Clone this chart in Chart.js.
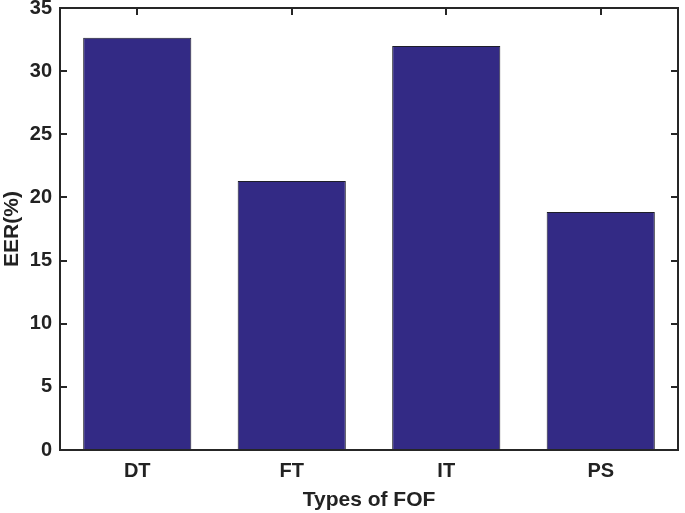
<!DOCTYPE html>
<html>
<head>
<meta charset="utf-8">
<script src="https://cdn.jsdelivr.net/npm/chart.js@4"></script>
<style>
  html, body { margin: 0; padding: 0; background: #fff; }
  #wrap { width: 685px; height: 513px; }
</style>
</head>
<body>
<div id="wrap"><canvas id="eerChart" width="685" height="513"></canvas></div>
<script>
const categories = ['DT', 'FT', 'IT', 'PS'];
const eerValues = [32.65, 21.3, 32.0, 18.85];
const yTicks = [0, 5, 10, 15, 20, 25, 30, 35];

const axisColor = '#262626';
const fontFamily = '"Liberation Sans", Arial, Helvetica, sans-serif';

// MATLAB-style box with inward ticks on all four sides
const boxPlugin = {
    id: 'matlabBox',
    beforeDatasetsDraw(chart) {
        const { ctx, chartArea: a, scales } = chart;
        ctx.save();
        ctx.strokeStyle = axisColor;
        ctx.lineWidth = 2;
        ctx.beginPath();
        yTicks.forEach(v => {
            const y = Math.round(scales.y.getPixelForValue(v));
            ctx.moveTo(a.left, y); ctx.lineTo(a.left + 7, y);
            ctx.moveTo(a.right, y); ctx.lineTo(a.right - 7, y);
        });
        categories.forEach((c, i) => {
            const x = Math.round(scales.x.getPixelForValue(i));
            ctx.moveTo(x, a.top); ctx.lineTo(x, a.top + 7);
        });
        ctx.stroke();
        ctx.restore();
    },
    afterDatasetsDraw(chart) {
        const { ctx, chartArea: a } = chart;
        ctx.save();
        ctx.strokeStyle = axisColor;
        ctx.lineWidth = 2;
        ctx.strokeRect(a.left, a.top, a.right - a.left, a.bottom - a.top);
        ctx.restore();
    }
};

new Chart(document.getElementById('eerChart'), {
    type: 'bar',
    data: {
        labels: categories,
        datasets: [{
            data: eerValues,
            backgroundColor: '#332a85',
            borderColor: '#1e1e2a',
            borderWidth: 1,
            categoryPercentage: 1.0,
            barPercentage: 0.7
        }]
    },
    options: {
        responsive: false,
        animation: false,
        layout: { padding: { left: 0, top: 8, right: 7, bottom: 0 } },
        plugins: { legend: { display: false }, tooltip: { enabled: false } },
        scales: {
            x: {
                grid: { display: false, drawTicks: false },
                border: { display: false },
                ticks: { color: '#222', padding: 9, font: { family: fontFamily, size: 20, weight: 'bold' } },
                title: {
                    display: true, text: 'Types of FOF', color: '#222', padding: { top: 2, bottom: 0 },
                    font: { family: fontFamily, size: 21, weight: 'bold' }
                },
                afterFit(scale) {
                    scale.height = 63;
                    scale.paddingLeft = 0; scale.paddingRight = 0;
                }
            },
            y: {
                min: 0, max: 35,
                grid: { display: false, drawTicks: false },
                border: { display: false },
                afterBuildTicks(scale) { scale.ticks = yTicks.map(v => ({ value: v })); },
                ticks: { color: '#222', padding: 8, font: { family: fontFamily, size: 20, weight: 'bold' } },
                title: {
                    display: true, text: 'EER(%)', color: '#222', padding: { top: 0, bottom: 2 },
                    font: { family: fontFamily, size: 21, weight: 'bold' }
                },
                afterFit(scale) {
                    scale.width = 60;
                    scale.paddingTop = 0; scale.paddingBottom = 0;
                }
            }
        }
    },
    plugins: [boxPlugin]
});
</script>
</body>
</html>
